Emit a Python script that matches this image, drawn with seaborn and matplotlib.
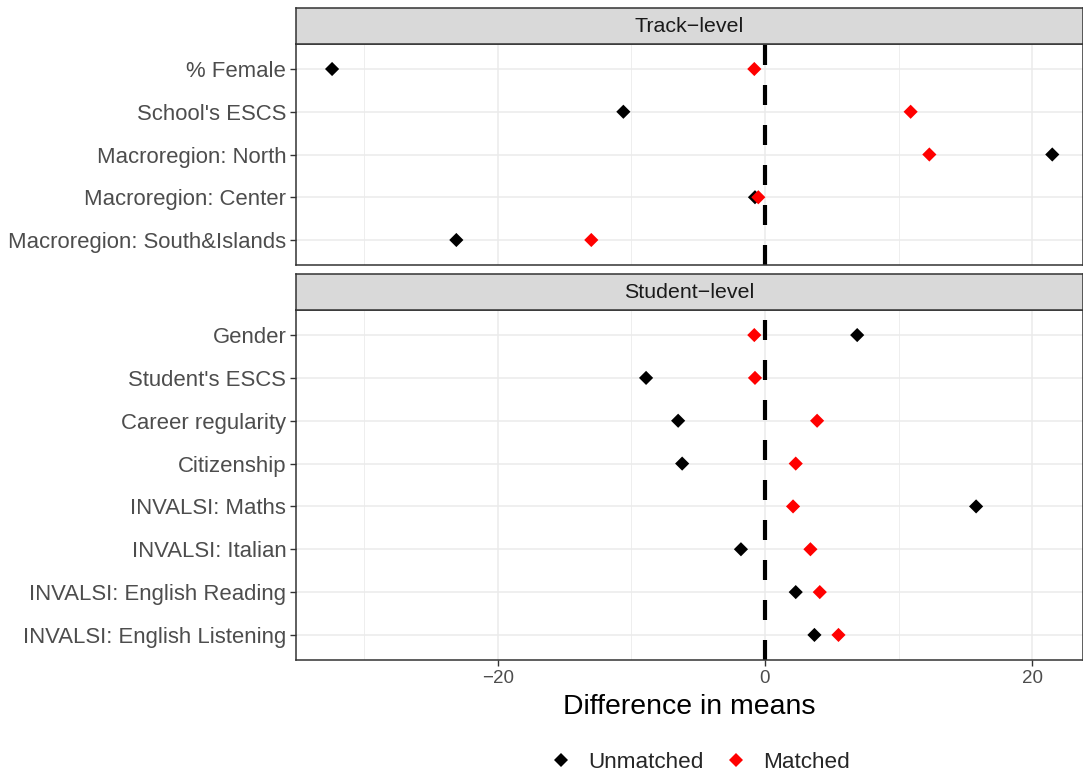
import seaborn as sns
import matplotlib.pyplot as plt
import pandas as pd
from matplotlib.lines import Line2D
from matplotlib.ticker import MultipleLocator

# Balance check: difference in means before / after matching
track_vars = ["% Female", "School's ESCS", "Macroregion: North",
              "Macroregion: Center", "Macroregion: South&Islands"]
track_unmatched = [-32.4, -10.6, 21.5, -0.75, -23.1]
track_matched = [-0.8, 10.9, 12.3, -0.5, -13.0]

student_vars = ["Gender", "Student's ESCS", "Career regularity", "Citizenship",
                "INVALSI: Maths", "INVALSI: Italian",
                "INVALSI: English Reading", "INVALSI: English Listening"]
student_unmatched = [6.9, -8.9, -6.5, -6.2, 15.8, -1.8, 2.3, 3.7]
student_matched = [-0.8, -0.75, 3.9, 2.3, 2.1, 3.4, 4.1, 5.5]

panels = ["Track\u2212level", "Student\u2212level"]
samples = ["Unmatched", "Matched"]
palette = {"Unmatched": "black", "Matched": "red"}

rows = []
for panel, names, unm, mat in [(panels[0], track_vars, track_unmatched, track_matched),
                               (panels[1], student_vars, student_unmatched, student_matched)]:
    for s, vals in zip(samples, [unm, mat]):
        for i, (n, v) in enumerate(zip(names, vals)):
            rows.append({"panel": panel, "variable": n, "pos": i, "diff": v, "sample": s})
df = pd.DataFrame(rows)

sns.set_style("white")
plt.rcParams["font.family"] = ["Liberation Sans", "DejaVu Sans"]

fig = plt.figure(figsize=(10.83, 7.74), dpi=100)
W, H = 1083, 774
left, right = 296, 1083

def box(top, bottom):
    return [left / W, 1 - bottom / H, (right - left) / W, (bottom - top) / H]

layout = [(panels[0], track_vars, (8, 44), (44, 265)),
          (panels[1], student_vars, (274, 310), (310, 660))]

xlim = (-35.1, 23.8)
for i, (panel, names, strip_px, plot_px) in enumerate(layout):
    ax = fig.add_axes(box(*plot_px))
    sub = df[df["panel"] == panel]
    ax.xaxis.set_major_locator(MultipleLocator(20))
    ax.xaxis.set_minor_locator(MultipleLocator(10))
    ax.grid(True, which="major", color="#EBEBEB", lw=1.1)
    ax.grid(True, which="minor", axis="x", color="#EBEBEB", lw=0.6)
    ax.set_axisbelow(True)
    zl = ax.axvline(0, color="black", lw=3.0, zorder=2)
    zl.set_dashes((4.8, 4.8))
    sns.scatterplot(data=sub, x="diff", y="pos", hue="sample", hue_order=samples,
                    palette=palette, marker="D", s=52, linewidth=0, ax=ax,
                    legend=False, zorder=3)
    ax.set_xlim(*xlim)
    ax.set_ylim(len(names) - 1 + 0.585, -0.585)
    ax.set_yticks(range(len(names)))
    ax.set_yticklabels(names)
    ax.set_xlabel("")
    ax.set_ylabel("")
    for sp in ax.spines.values():
        sp.set_color("#333333")
        sp.set_linewidth(1.1)
    ax.tick_params(axis="y", length=4, width=1, color="#333333", pad=3,
                   labelsize=15.9, labelcolor="#4D4D4D", left=True)
    if i == 0:
        ax.tick_params(axis="x", which="both", bottom=False, labelbottom=False)
    else:
        ax.tick_params(axis="x", which="major", length=4, width=1, color="#333333",
                       pad=3.5, labelsize=13.5, labelcolor="#4D4D4D", bottom=True)
        ax.tick_params(axis="x", which="minor", bottom=False)

    sax = fig.add_axes(box(*strip_px))
    sax.set_facecolor("#D9D9D9")
    sax.set_xticks([])
    sax.set_yticks([])
    for sp in sax.spines.values():
        sp.set_color("#333333")
        sp.set_linewidth(1.1)
    sax.text(0.5, 0.5, panel, ha="center", va="center", fontsize=15.4,
             color="#1A1A1A", transform=sax.transAxes)

fig.text((left + right) / 2 / W, 1 - 707 / H, "Difference in means",
         ha="center", va="center", fontsize=20.4, color="black")

handles = [Line2D([], [], marker="D", ls="", color=palette[s], markersize=7.1,
                  markeredgewidth=0) for s in samples]
fig.legend(handles, samples, loc="center", bbox_to_anchor=(700 / W, 1 - 762 / H),
           ncol=2, frameon=False, fontsize=16.2, handletextpad=0.7,
           columnspacing=0.97, handlelength=1.0, borderpad=0, borderaxespad=0)

fig.savefig("out.png", dpi=100)
plt.close(fig)
